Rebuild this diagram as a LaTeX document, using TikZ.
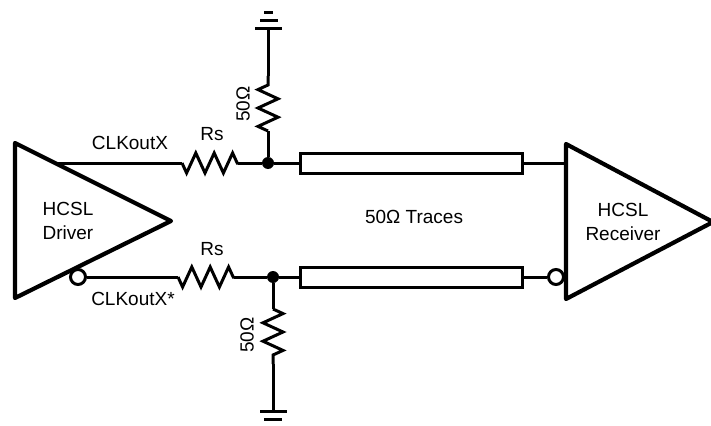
\documentclass[tikz,border=0pt]{standalone}
\usepackage{fontspec}
\setmainfont{Liberation Sans}
\usetikzlibrary{decorations.pathmorphing}
\tikzset{
    wire/.style={line width=3pt},
    amp/.style={line width=4.2pt, line join=round},
    resistor/.style={wire, line join=miter, decorate, decoration={zigzag, segment length=18.4pt, amplitude=10pt}},
    rmirror/.style={resistor, decoration={zigzag, segment length=18.4pt, amplitude=10pt, mirror}},
    trace/.style={draw, line width=3pt, minimum width=222pt, minimum height=20pt, inner sep=0pt},
    dot/.style={circle, fill, inner sep=0pt, minimum size=12pt},
    bubble/.style={circle, draw, fill=white, line width=3pt, inner sep=0pt, minimum size=15pt},
    lbl/.style={font=\fontsize{19}{23}\selectfont, inner sep=0pt, align=center},
}
\begin{document}
\begin{tikzpicture}[x=1pt, y=-1pt]
    \useasboundingbox (0,0) rectangle (711,425);

    % driver and receiver
    \coordinate (drvtop) at (57,163);
    \coordinate (rcvtop) at (566,163);
    \draw [amp] (15,143) -- (171,221) -- (15,298) -- cycle;
    \draw [amp] (566,144) -- (713,222) -- (566,299) -- cycle;
    \node [lbl] (drv) at (68,221) {HCSL\\[1pt]Driver};
    \node [lbl] (rcv) at (623,221.5) {HCSL\\[1pt]Receiver};

    % traces
    \node [trace] (t1) at (411,163) {};
    \node [trace] (t2) at (411,277) {};
    \node [lbl] (tlabel) at (414,217) {50Ω Traces};

    % junctions and inverted pins
    \node [dot] (j1) at (268,163) {};
    \node [dot] (j2) at (273,277) {};
    \node [bubble] (b1) at (78,277) {};
    \node [bubble] (b2) at (556,277) {};

    % series resistors
    \coordinate (r1a) at (182,163);
    \coordinate (r1b) at (238,163);
    \coordinate (r2a) at (178,277);
    \coordinate (r2b) at (234,277);
    \draw [rmirror] (r1a) -- (r1b);
    \draw [rmirror] (r2a) -- (r2b);
    \draw [wire] (drvtop) -- (r1a);
    \draw [wire] (r1b) -- (j1);
    \draw [wire] (j1) -- (t1);
    \draw [wire] (t1) -- (rcvtop);
    \draw [wire] (b1) -- (r2a);
    \draw [wire] (r2b) -- (j2);
    \draw [wire] (j2) -- (t2);
    \draw [wire] (t2) -- (b2);

    % pull-downs
    \coordinate (r3a) at (268,131);
    \coordinate (r3b) at (268,76);
    \coordinate (g1) at (268,29);
    \coordinate (r4a) at (273,309);
    \coordinate (r4b) at (273,364);
    \coordinate (g2) at (273,411);
    \draw [resistor] (r3a) -- (r3b);
    \draw [resistor] (r4a) -- (r4b);
    \draw [wire] (j1) -- (r3a);
    \draw [wire] (r3b) -- (g1);
    \draw [wire] (j2) -- (r4a);
    \draw [wire] (r4b) -- (g2);

    % grounds
    \draw [wire] (255,29) -- (282,29);
    \draw [wire] (260,20.5) -- (278,20.5);
    \draw [wire] (264,13) -- (273,13);
    \draw [wire] (260,411) -- (287,411);
    \draw [wire] (264,419.5) -- (282,419.5);

    % labels
    \node [lbl] (clkp) at (130,143) {CLKoutX};
    \node [lbl] (clkn) at (133,299) {CLKoutX*};
    \node [lbl] (rs1) at (212,134) {Rs};
    \node [lbl] (rs2) at (212,249) {Rs};
    \node [lbl, rotate=90] (r50a) at (243,104) {50Ω};
    \node [lbl, rotate=90] (r50b) at (247,335) {50Ω};
\end{tikzpicture}
\end{document}
